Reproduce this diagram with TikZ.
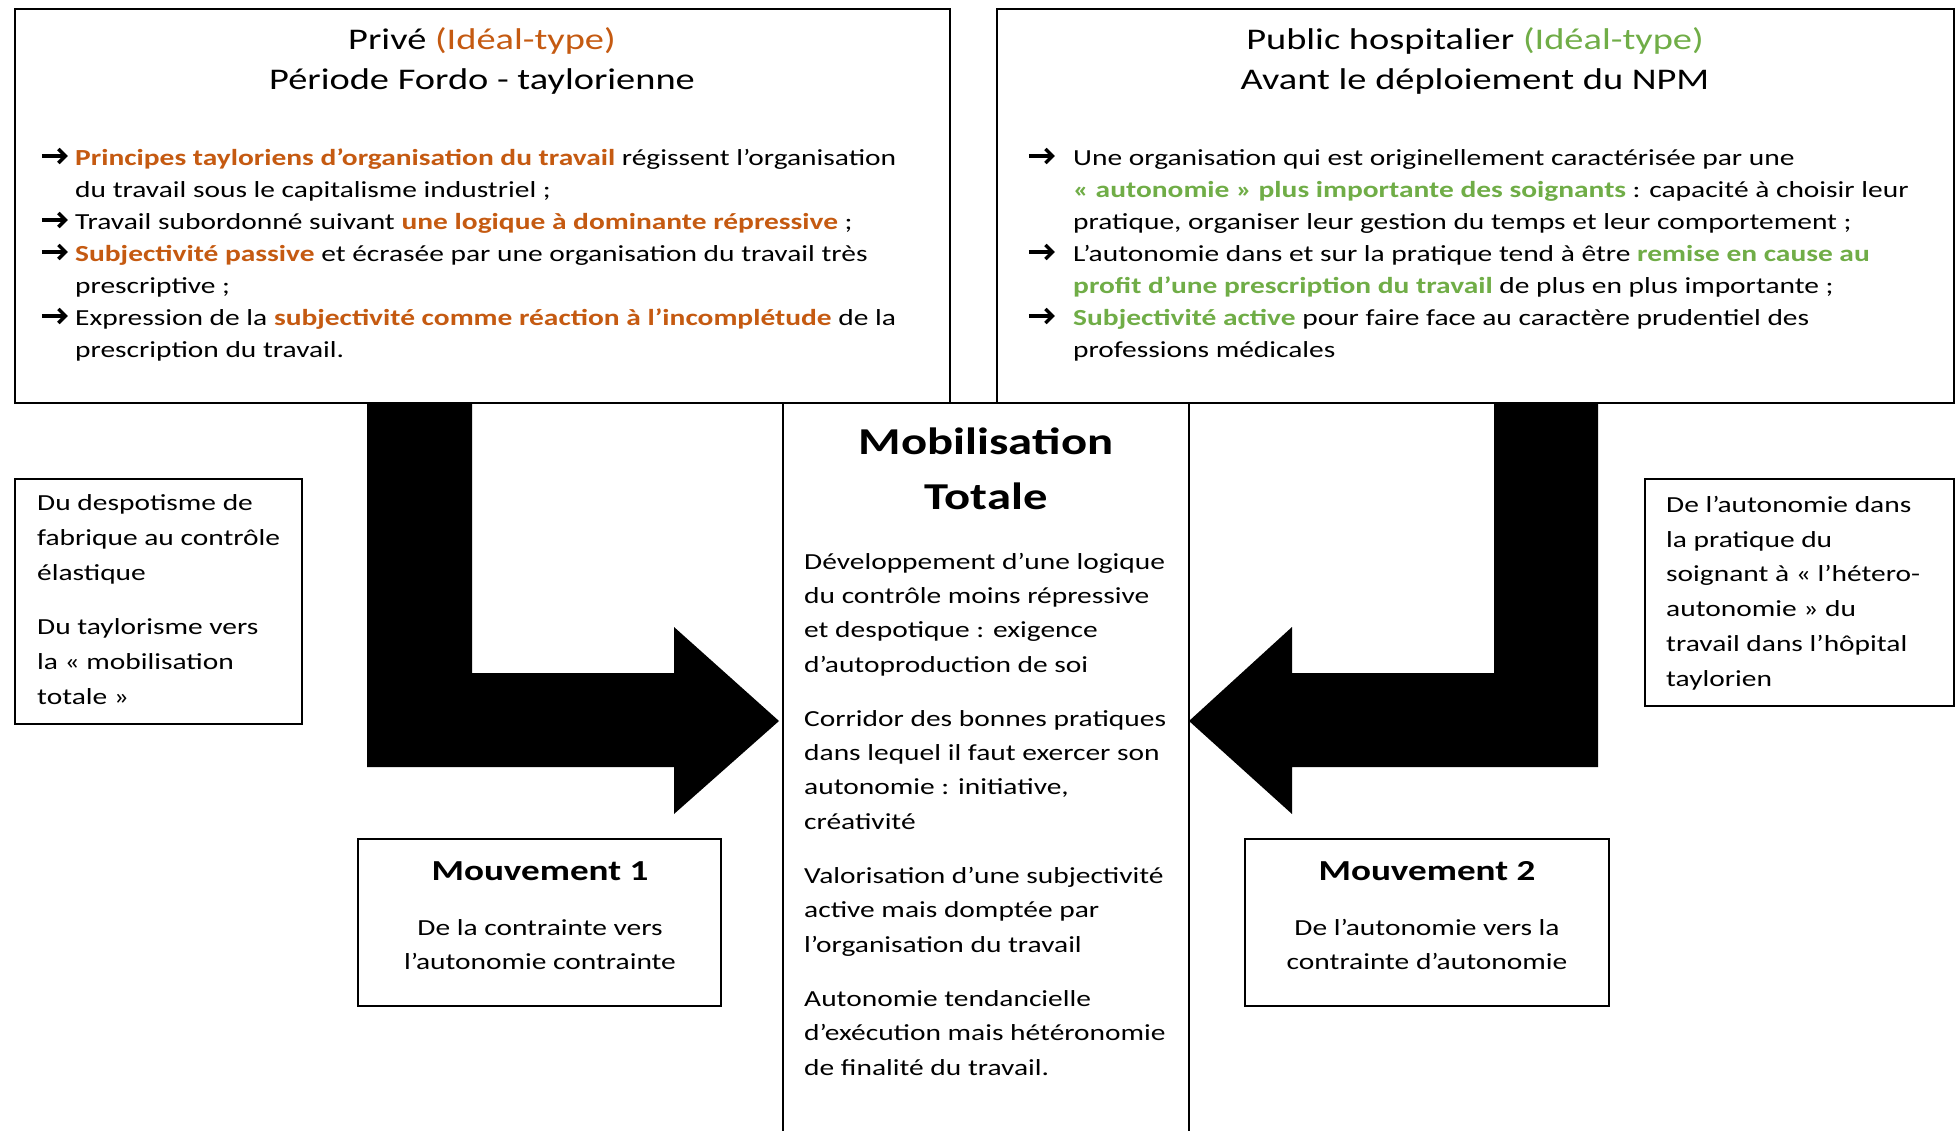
\documentclass[tikz,border=0pt]{standalone}
\usepackage{fontspec}
\setmainfont[FakeStretch=1.28]{Carlito}
\definecolor{orng}{RGB}{197,90,17}
\definecolor{grn}{RGB}{112,173,71}
\newcommand{\arrowglyph}{\tikz[baseline=0pt,x=1pt,y=1pt]{\draw[line width=3.4pt] (0,10) -- (23,10);
  \draw[line width=3.4pt, line join=miter] (16.5,17) -- (23.5,10) -- (16.5,3);}}
\newcommand{\bul}{\makebox[35pt][l]{\arrowglyph}}
\newcommand{\bulr}{\makebox[46pt][l]{\arrowglyph}}
\begin{document}
\begin{tikzpicture}[x=1pt,y=-1pt,
  frame/.style={draw=black, line width=1.6pt},
  thinframe/.style={draw=black, line width=1.3pt},
  bigarrow/.style={fill=black, draw=none},
  title/.style={font=\fontsize{30}{35}\selectfont, anchor=base, inner sep=0pt},
  body/.style={font=\fontsize{23}{32}\selectfont, anchor=base west, inner sep=0pt},
  side/.style={font=\fontsize{23}{35}\selectfont, anchor=base west, inner sep=0pt, align=left},
  mid/.style={font=\fontsize{23}{34.3}\selectfont, anchor=base west, inner sep=0pt, align=left},
  mvt/.style={font=\fontsize{29}{36}\selectfont\bfseries, anchor=base, inner sep=0pt},
  mvtsub/.style={font=\fontsize{23}{34}\selectfont, anchor=base, inner sep=0pt, align=center}
]
\useasboundingbox (0,0) rectangle (1957,1131);
\fill[white] (0,0) rectangle (1957,1131);

% big arrows
\fill[bigarrow] (367,403) -- (472,403) -- (472,673) -- (674,673) -- (674,627) -- (779,721)
  -- (674,814) -- (674,767) -- (367,767) -- cycle;
\fill[bigarrow] (1598,403) -- (1494,403) -- (1494,673) -- (1292,673) -- (1292,627) -- (1189,721)
  -- (1292,814) -- (1292,767) -- (1598,767) -- cycle;

% center column
\draw[frame] (783,1140) -- (783,403) -- (1189,403) -- (1189,1140);

% top boxes
\draw[frame] (15,9) rectangle (950,403);
\draw[frame] (997,9) rectangle (1954,403);

% top-left content
\node[title] (t1a) at (482,49.5) {Privé \textcolor{orng}{(Idéal-type)}};
\node[title] (t1b) at (482,89.5) {Période Fordo - taylorienne};
\node[body] (b1) at (40,166) {\begin{tabular}[t]{@{}l@{}l@{}}
\bul & \textcolor{orng}{\bfseries Principes tayloriens d’organisation du travail} régissent l’organisation\\
 & du travail sous le capitalisme industriel ;\\
\bul & Travail subordonné suivant \textcolor{orng}{\bfseries une logique à dominante répressive} ;\\
\bul & \textcolor{orng}{\bfseries Subjectivité passive} et écrasée par une organisation du travail très\\
 & prescriptive ;\\
\bul & Expression de la \textcolor{orng}{\bfseries subjectivité comme réaction à l’incomplétude} de la\\
 & prescription du travail.
\end{tabular}};

% top-right content
\node[title] (t2a) at (1475,49.5) {Public hospitalier \textcolor{grn}{(Idéal-type)}};
\node[title] (t2b) at (1475,89.5) {Avant le déploiement du NPM};
\node[body] (b2) at (1027,166) {\begin{tabular}[t]{@{}l@{}l@{}}
\bulr & Une organisation qui est originellement caractérisée par une\\
 & \textcolor{grn}{\bfseries « autonomie » plus importante des soignants} : capacité à choisir leur\\
 & pratique, organiser leur gestion du temps et leur comportement ;\\
\bulr & L’autonomie dans et sur la pratique tend à être \textcolor{grn}{\bfseries remise en cause au}\\
 & \textcolor{grn}{\bfseries profit d’une prescription du travail} de plus en plus importante ;\\
\bulr & \textcolor{grn}{\bfseries Subjectivité active} pour faire face au caractère prudentiel des\\
 & professions médicales
\end{tabular}};

% left side box
\draw[thinframe] (15,479) rectangle (302,724);
\node[side] (s1) at (37,704) {Du despotisme de\\fabrique au contrôle\\élastique\\[18.6pt]Du taylorisme vers\\la « mobilisation\\totale »};

% right side box
\draw[thinframe] (1645,479) rectangle (1954,706);
\node[side, font=\fontsize{23}{34.7}\selectfont] (s2) at (1666,686) {De l’autonomie dans\\la pratique du\\soignant à « l’hétero-\\autonomie » du\\travail dans l’hôpital\\taylorien};

% center text
\node[font=\fontsize{38}{55}\selectfont\bfseries, anchor=base, inner sep=0pt, align=center] (mt) at (986,509) {Mobilisation\\Totale};
\node[mid] (m1) at (804,1075) {Développement d’une logique\\du contrôle moins répressive\\et despotique : exigence\\d’autoproduction de soi\\[20pt]%
Corridor des bonnes pratiques\\dans lequel il faut exercer son\\autonomie : initiative,\\créativité\\[20pt]%
Valorisation d’une subjectivité\\active mais domptée par\\l’organisation du travail\\[20pt]%
Autonomie tendancielle\\d’exécution mais hétéronomie\\de finalité du travail.};

% Mouvement boxes
\draw[thinframe] (358,839) rectangle (721,1006);
\node[mvt] (mv1) at (540,880) {Mouvement 1};
\node[mvtsub] (mv1s) at (540,969.5) {De la contrainte vers\\l’autonomie contrainte};

\draw[thinframe] (1245,839) rectangle (1609,1006);
\node[mvt] (mv2) at (1427,880) {Mouvement 2};
\node[mvtsub] (mv2s) at (1427,969.5) {De l’autonomie vers la\\contrainte d’autonomie};
\end{tikzpicture}
\end{document}
